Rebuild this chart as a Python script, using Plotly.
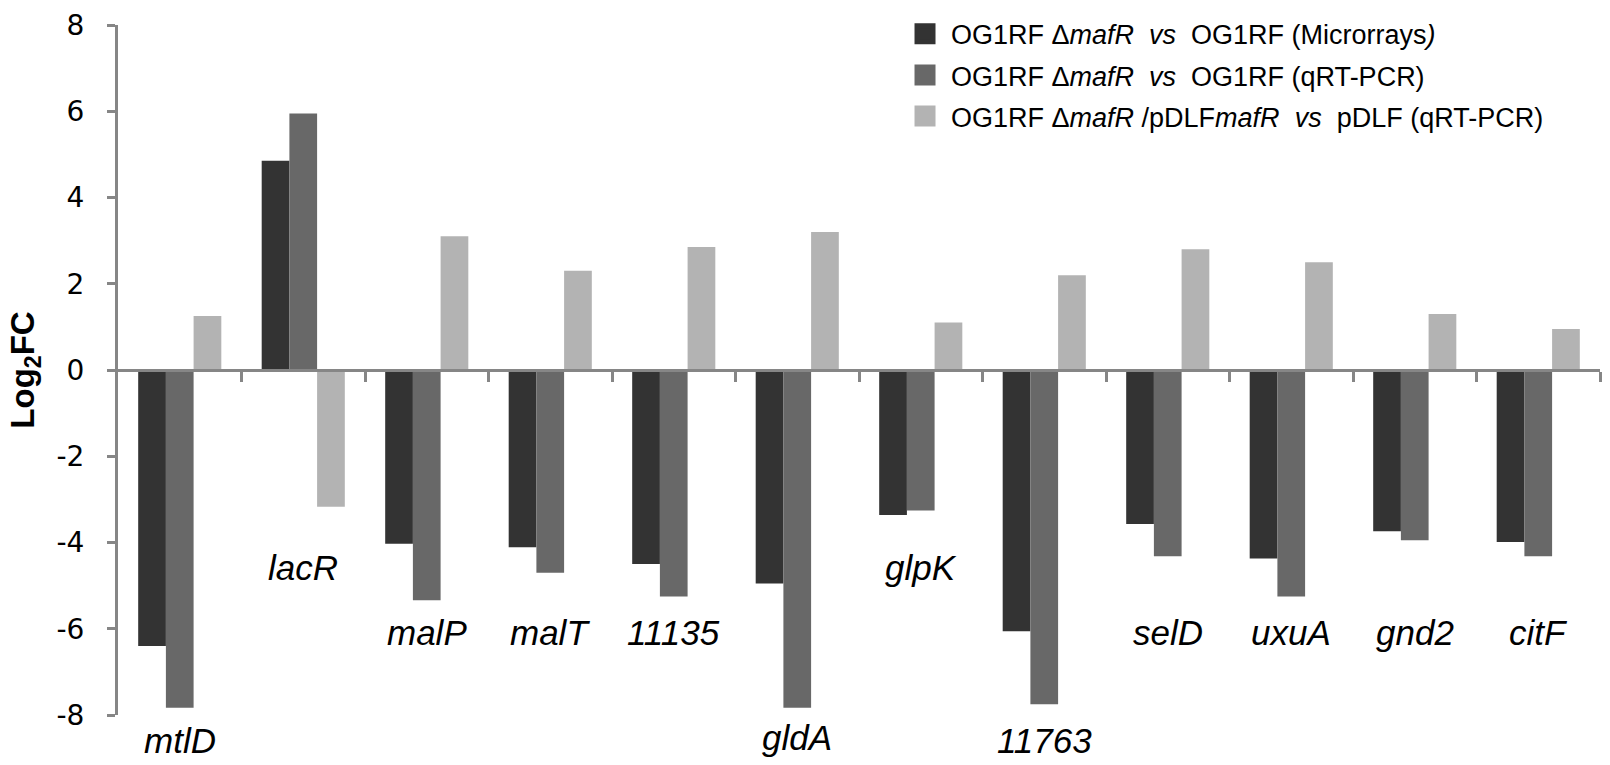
import plotly.graph_objects as go

genes = ["mtlD", "lacR", "malP", "malT", "11135", "gldA", "glpK", "11763",
         "selD", "uxuA", "gnd2", "citF"]
microarrays = [-6.4, 4.85, -4.03, -4.11, -4.5, -4.95, -3.36, -6.06, -3.57, -4.37, -3.74, -3.99]
qrtpcr = [-7.83, 5.95, -5.34, -4.7, -5.25, -7.83, -3.26, -7.75, -4.32, -5.25, -3.95, -4.32]
complemented = [1.25, -3.17, 3.1, 2.3, 2.85, 3.2, 1.1, 2.2, 2.8, 2.5, 1.3, 0.95]

series_names = [
    "OG1RF Δ<i>mafR</i>  <i>vs</i>  OG1RF (Microrrays<i>)</i>",
    "OG1RF Δ<i>mafR</i>  <i>vs</i>  OG1RF (qRT-PCR)",
    "OG1RF Δ<i>mafR</i> /pDLF<i>mafR</i>  <i>vs</i>  pDLF (qRT-PCR)",
]
series_colors = ["#333333", "#686868", "#b3b3b3"]

y_ticks = [-8, -6, -4, -2, 0, 2, 4, 6, 8]
y_tick_labels = ["-8", "-6", "-4", "-2", "0", "2", "4", "6", "8"]
y_range = [-8, 8]

# vertical placement (in data units) of each gene label
label_level = [-8.58, -4.57, -6.08, -6.08, -6.08, -8.52, -4.57, -8.58,
               -6.08, -6.08, -6.08, -6.08]

positions = list(range(len(genes)))

fig = go.Figure()
for i, (vals, name, col) in enumerate(zip([microarrays, qrtpcr, complemented],
                                          series_names, series_colors)):
    fig.add_trace(go.Bar(x=positions, y=vals, name=name, marker_color=col,
                         marker_line_width=0, legendgroup=f"g{i}", showlegend=False))
    # legend entry (larger square swatch, same group as the bars)
    fig.add_trace(go.Scatter(x=[None], y=[None], mode="markers", name=name,
                             legendgroup=f"g{i}", showlegend=True,
                             marker=dict(symbol="square", size=16, color=col,
                                         line=dict(color=col, width=5))))

for p, g, lv in zip(positions, genes, label_level):
    fig.add_annotation(x=p, xref="x", yref="paper",
                       y=(lv - y_range[0]) / (y_range[1] - y_range[0]),
                       text=f"<i>{g}</i>", showarrow=False,
                       font=dict(family="Liberation Sans, Arial", size=35, color="#000000"),
                       xanchor="center", yanchor="middle")

axis_col = "#868686"
fig.update_layout(
    width=1610, height=765, autosize=False,
    margin=dict(l=118, r=10, t=17, b=50),
    paper_bgcolor="white", plot_bgcolor="white",
    barmode="group", bargap=0.327, bargroupgap=0,
    showlegend=True,
    legend=dict(x=0.527, y=1.022, xanchor="left", yanchor="top",
                font=dict(family="Liberation Sans, Arial", size=27, color="#000000"),
                traceorder="grouped", tracegroupgap=3, itemwidth=42,
                bgcolor="rgba(255,255,255,0)"),
    xaxis=dict(anchor="free", position=0.5, range=[-0.5, len(genes) - 0.5],
               tickmode="array", tickvals=[p + 0.5 for p in positions],
               showline=True, linecolor=axis_col, linewidth=3,
               ticks="outside", ticklen=10, tickwidth=3,
               tickcolor=axis_col, showticklabels=False, showgrid=False,
               zeroline=False),
    yaxis=dict(range=y_range, tickmode="array", tickvals=y_ticks, ticktext=y_tick_labels,
               showline=True, linecolor=axis_col, linewidth=3,
               ticks="outside", ticklen=8, tickwidth=3, tickcolor=axis_col,
               ticklabelstandoff=17,
               tickfont=dict(family="DejaVu Sans", size=28, color="#000000"),
               showgrid=False, zeroline=False,
               title=dict(text="<b>Log<sub>2</sub>FC</b>",
                          font=dict(family="Liberation Sans, Arial", size=33, color="#000000"),
                          standoff=12)),
)

fig.write_html("out.html", config={"displayModeBar": False},
               post_script="document.body.style.margin='0';")
